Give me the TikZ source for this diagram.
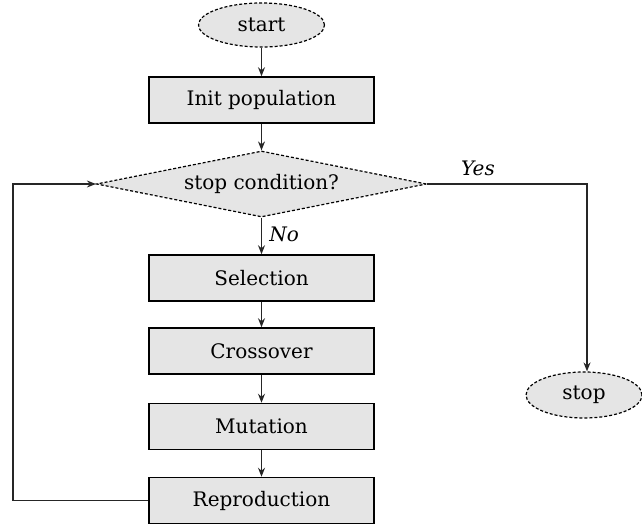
\documentclass[tikz,border=0pt]{standalone}
\usepackage{fontspec}
\setmainfont{DejaVu Serif}
\usetikzlibrary{shapes.geometric,arrows.meta}
\begin{document}
\begin{tikzpicture}[x=1pt,y=1pt,
  procbox/.style={draw=black,line width=1.5pt,fill=black!10,minimum width=225pt,minimum height=46pt,inner sep=0pt,font=\fontsize{20}{22}\selectfont},
  termnode/.style={ellipse,draw=black,densely dashed,line width=1.2pt,fill=black!10,inner sep=0pt,font=\fontsize{20}{22}\selectfont},
  decnode/.style={diamond,aspect=5,draw=black,densely dashed,line width=1.2pt,fill=black!10,minimum width=330pt,minimum height=66pt,inner sep=0pt,font=\fontsize{20}{22}\selectfont},
  conn/.style={line width=1.3pt,draw=black!85,-{Stealth[length=9pt,width=7pt]}},
  lbl/.style={font=\fontsize{20}{22}\selectfont\itshape}]
\useasboundingbox (0,0) rectangle (642,525);
\node[termnode,minimum width=126pt,minimum height=44pt] (start) at (261.5,500) {start};
\node[procbox] (init) at (261.5,425) {Init population};
\node[decnode] (cond) at (261.5,341) {stop condition?};
\node[procbox] (sel) at (261.5,247) {Selection};
\node[procbox] (cross) at (261.5,174) {Crossover};
\node[procbox] (mut) at (261.5,98.5) {Mutation};
\node[procbox] (repr) at (261.5,24.5) {Reproduction};
\node[termnode,minimum width=116pt,minimum height=46pt] (stop) at (584,130) {stop};
\coordinate (loopA) at (13,24.5);
\coordinate (loopB) at (13,341);
\coordinate (yesC) at (587,341);
\draw[conn] (start) -- (init);
\draw[conn] (init) -- (cond.north);
\draw[conn] (cond.south) -- (sel.north) node[lbl,pos=0.45,right=4pt] (no) {No};
\draw[conn] (sel) -- (cross);
\draw[conn] (cross) -- (mut);
\draw[conn] (mut) -- (repr);
\draw[conn] (repr.west) -- (loopA) -- (loopB) -- (cond.west);
\draw[conn] (cond.east) -- (yesC) -- (yesC |- stop.north);
\node[lbl] (yes) at (478,357) {Yes};
\end{tikzpicture}
\end{document}
